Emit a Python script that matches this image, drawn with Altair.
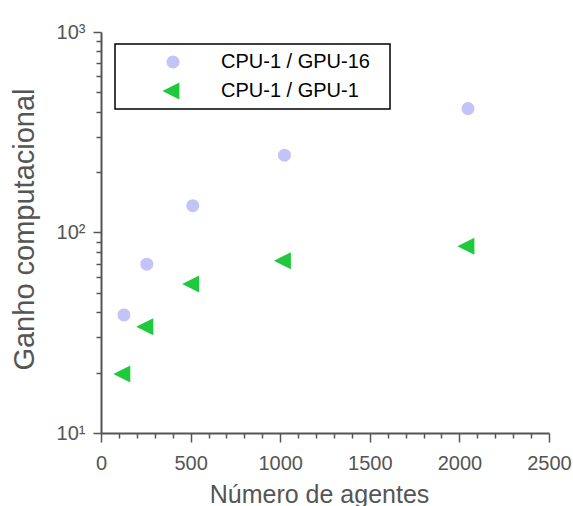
import altair as alt
import pandas as pd

agents = [128, 256, 512, 1024, 2048]
speedup_gpu16 = [38.8, 69.5, 136, 243, 415]
speedup_gpu1 = [19.7, 33.9, 55.3, 72.3, 85.5]
series_names = ["CPU-1 / GPU-16", "CPU-1 / GPU-1"]
series_colors = ["#c3c3f8", "#1fc93c"]
x_ticks = list(range(0, 2501, 100))
y_ticks = [m * 10 ** e for e in (1, 2) for m in range(1, 10)] + [1000]

rows = []
for a, v in zip(agents, speedup_gpu16):
    rows.append({"agentes": a, "ganho": v, "serie": series_names[0]})
for a, v in zip(agents, speedup_gpu1):
    rows.append({"agentes": a, "ganho": v, "serie": series_names[1]})
df = pd.DataFrame(rows)

tri_left = "M-1.25,0L0.75,-1L0.75,1Z"
pad_text = "\u00a0\u00a0\u200b"

leg = alt.Legend(
    title=None, orient="none", legendX=14, legendY=12,
    padding=8, strokeColor="black", fillColor="white",
    labelFontSize=20, labelFont="Liberation Sans", labelColor="black", labelLimit=250,
    symbolOffset=40, labelOffset=38, rowPadding=9, symbolStrokeWidth=0,
    labelExpr="datum.label + '" + pad_text + "'",
)

x_major = "datum.value % 500 === 0"
y_major = "datum.value === 10 || datum.value === 100 || datum.value === 1000"

chart = alt.Chart(df).mark_point(filled=True, opacity=1, strokeWidth=0).encode(
    x=alt.X("agentes:Q", scale=alt.Scale(domain=[0, 2500], nice=False),
            axis=alt.Axis(values=x_ticks, title="Número de agentes",
                          labelExpr=x_major + " ? '' + datum.value : ''",
                          tickSize={"condition": {"test": x_major, "value": 9}, "value": 5},
                          labelFlush=False, labelOverlap=False, labelPadding=11,
                          titleFontSize=25, titleX=218, titleY=69, titleBaseline="alphabetic",
                          titleAlign="center")),
    y=alt.Y("ganho:Q", scale=alt.Scale(type="log", domain=[10, 1000], nice=False),
            axis=alt.Axis(values=y_ticks, title="Ganho computacional",
                          labelExpr="datum.value === 10 ? '10¹' : datum.value === 100 ? '10²' : datum.value === 1000 ? '10³' : ''",
                          tickSize={"condition": {"test": y_major, "value": 8}, "value": 5},
                          labelOverlap=False, labelPadding=8,
                          titleFontSize=29, titleX=-68, titleY=197, titleBaseline="alphabetic",
                          titleAlign="center", titleAngle=270)),
    color=alt.Color("serie:N", scale=alt.Scale(domain=series_names, range=series_colors), legend=leg),
    shape=alt.Shape("serie:N", scale=alt.Scale(domain=series_names, range=["circle", tri_left]), legend=leg),
    size=alt.Size("serie:N", scale=alt.Scale(domain=series_names, range=[170, 290]), legend=leg),
).properties(
    width=448, height=401,
    autosize=alt.AutoSizeParams(type="none"),
    padding={"left": 101, "top": 32, "right": 24, "bottom": 73},
).configure(
    font="Liberation Sans",
).configure_view(
    stroke=None,
).configure_legend(
    strokeWidth=1.5,
).configure_axis(
    grid=False, domainColor="#555555", domainWidth=2, tickColor="#555555", tickWidth=1.5,
    labelColor="#555555", titleColor="#555555", labelFontSize=20, labelFont="Liberation Sans",
    titleFont="Liberation Sans", titleFontWeight="normal",
)

chart.save("out.html", embed_options={"renderer": "svg", "actions": False})
